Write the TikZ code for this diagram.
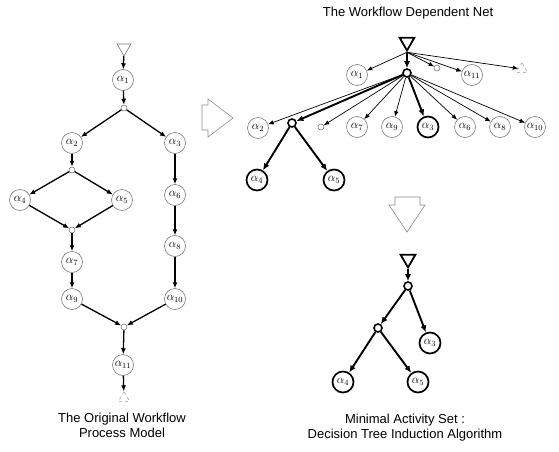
\documentclass[tikz,border=0pt]{standalone}
\usepackage{fontspec}
\setmainfont{Liberation Sans}
\usetikzlibrary{arrows.meta,shapes.geometric}

\tikzset{
  act/.style={circle, draw=black!60, line width=0.5pt, minimum size=21pt, inner sep=0pt, font=\fontsize{12}{14}\selectfont},
  actb/.style={act, draw=black, line width=1.7pt},
  knot/.style={circle, draw=black!60, line width=0.5pt, minimum size=6pt, inner sep=0pt},
  knotb/.style={circle, draw=black, line width=1.6pt, minimum size=8pt, inner sep=0pt},
  startmark/.style={regular polygon, regular polygon sides=3, shape border rotate=180, draw=black!55, line width=0.6pt, minimum size=16pt, inner sep=0pt},
  startmarkb/.style={startmark, draw=black, line width=1.8pt, minimum size=17pt},
  endmark/.style={regular polygon, regular polygon sides=3, draw=black!40, line width=0.5pt, dashed, minimum size=13pt, inner sep=0pt},
  flow/.style={-{Latex[length=6pt,width=5pt]}, line width=1.3pt},
  dep/.style={-{Latex[length=5.5pt,width=4.5pt]}, line width=0.7pt},
  depb/.style={-{Latex[length=7pt,width=6pt]}, line width=1.9pt},
  blockarrow/.style={draw=black!45, line width=0.6pt},
  caption/.style={align=center, font=\fontsize{13}{15}\selectfont}
}

\begin{document}
\begin{tikzpicture}[x=1pt, y=-1pt]
  \useasboundingbox (0,0) rectangle (559,452);

  % ---------------- original workflow process model ----------------
  \node[startmark] (s) at (124,48) {};
  \node[act] (a1) at (123,80) {$\alpha_{1}$};
  \node[knot] (k1) at (124,108) {};
  \node[act] (a2) at (72,143) {$\alpha_{2}$};
  \node[act] (a3) at (175,143) {$\alpha_{3}$};
  \node[knot] (k2) at (72,170) {};
  \node[act] (a4) at (20,200) {$\alpha_{4}$};
  \node[act] (a5) at (122,200) {$\alpha_{5}$};
  \node[knot] (j1) at (72,230) {};
  \node[act] (a7) at (72,262) {$\alpha_{7}$};
  \node[act] (a9) at (72,299) {$\alpha_{9}$};
  \node[act] (a6) at (175,195) {$\alpha_{6}$};
  \node[act] (a8) at (175,246) {$\alpha_{8}$};
  \node[act] (a10) at (175,299) {$\alpha_{10}$};
  \node[knot] (j2) at (124,327) {};
  \node[act] (a11) at (123,365) {$\alpha_{11}$};
  \node[endmark] (e) at (124,398) {};

  \draw[flow] (s) -- (a1);
  \draw[flow] (a1) -- (k1);
  \draw[flow] (k1) -- (a2);
  \draw[flow] (k1) -- (a3);
  \draw[flow] (a2) -- (k2);
  \draw[flow] (k2) -- (a4);
  \draw[flow] (k2) -- (a5);
  \draw[flow] (a4) -- (j1);
  \draw[flow] (a5) -- (j1);
  \draw[flow] (j1) -- (a7);
  \draw[flow] (a7) -- (a9);
  \draw[flow] (a3) -- (a6);
  \draw[flow] (a6) -- (a8);
  \draw[flow] (a8) -- (a10);
  \draw[flow] (a9) -- (j2);
  \draw[flow] (a10) -- (j2);
  \draw[flow] (j2) -- (a11);
  \draw[flow] (a11) -- (e);

  \node[caption] (capL) at (122,425) {The Original Workflow\\Process Model};

  % ---------------- workflow dependent net ----------------
  \node[caption] (capN) at (408,13) {The Workflow Dependent Net};

  \node[startmarkb] (t) at (407,42) {};
  \node[act] (d1) at (357,75) {$\alpha_{1}$};
  \node[knot] (dk) at (437,68) {};
  \node[act] (d11) at (472,75) {$\alpha_{11}$};
  \node[endmark] (de) at (522,69) {};
  \node[knotb] (h) at (407,73) {};

  \node[act] (d2) at (258,128) {$\alpha_{2}$};
  \node[knotb] (h2) at (292,123) {};
  \node[knot] (dk2) at (321,127) {};
  \node[act] (d7) at (357,127) {$\alpha_{7}$};
  \node[act] (d9) at (392,127) {$\alpha_{9}$};
  \node[actb] (d3) at (428,127) {$\alpha_{3}$};
  \node[act] (d6) at (465,127) {$\alpha_{6}$};
  \node[act] (d8) at (500,127) {$\alpha_{8}$};
  \node[act] (d10) at (535,127) {$\alpha_{10}$};
  \node[actb] (d4) at (257,180) {$\alpha_{4}$};
  \node[actb] (d5) at (334,180) {$\alpha_{5}$};

  \draw[dep] (t.south) -- (d1);
  \draw[depb] (t) -- (h);
  \draw[dep] (t.south) -- (dk);
  \draw[dep] (t.south) -- (d11);
  \draw[dep] (t.south) -- (de);

  \draw[dep] (h) -- (d2);
  \draw[depb] (h) -- (h2);
  \draw[dep] (h) -- (dk2);
  \draw[dep] (h) -- (d7);
  \draw[dep] (h) -- (d9);
  \draw[depb] (h) -- (d3);
  \draw[dep] (h) -- (d6);
  \draw[dep] (h) -- (d8);
  \draw[dep] (h) -- (d10);
  \draw[depb] (h2) -- (d4);
  \draw[depb] (h2) -- (d5);

  % ---------------- block arrows between the stages ----------------
  \draw[blockarrow] (202,105) -- (208,105) -- (208,99) -- (233,118)
        -- (208,137) -- (208,130) -- (202,130) -- cycle;
  \draw[blockarrow] (395,197) -- (420,197) -- (420,205) -- (425,205)
        -- (407,232) -- (389,205) -- (395,205) -- cycle;

  % ---------------- minimal activity set ----------------
  \node[startmarkb] (bt) at (408,259) {};
  \node[knotb] (bh) at (408,286) {};
  \node[knotb] (bh2) at (378,328) {};
  \node[actb] (b3) at (430,343) {$\alpha_{3}$};
  \node[actb] (b4) at (343,382) {$\alpha_{4}$};
  \node[actb] (b5) at (418,382) {$\alpha_{5}$};

  \draw[depb] (bt) -- (bh);
  \draw[depb] (bh) -- (bh2);
  \draw[depb] (bh) -- (b3);
  \draw[depb] (bh2) -- (b4);
  \draw[depb] (bh2) -- (b5);

  \node[caption] (capM) at (405,428) {Minimal Activity Set :\\Decision Tree Induction Algorithm};
\end{tikzpicture}
\end{document}
